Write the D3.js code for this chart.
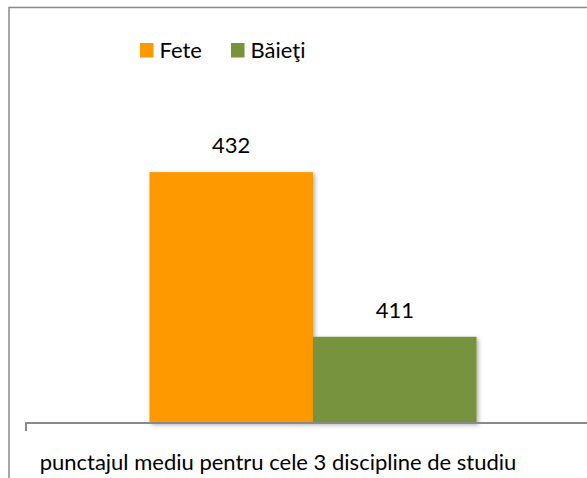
<!DOCTYPE html>
<html>
<head>
<meta charset="utf-8">
<script src="https://cdn.jsdelivr.net/npm/d3@7"></script>
<style>
  html, body { margin: 0; padding: 0; background: #fff; }
  svg { display: block; font-family: Lato, "Noto Sans", sans-serif; }
</style>
</head>
<body>
<svg id="chart" width="587" height="478"></svg>
<script>
// data
var categories = ["punctajul mediu pentru cele 3 discipline de studiu"]
var seriesNames = ["Fete", "Băieţi"]
var seriesValues = [432, 411]
var seriesColors = ["#ff9900", "#77933c"]
var yDomain = [400, 450]

var width = 587, height = 478
var fontSize = 22

var svg = d3.select("#chart")

// drop shadow for the bars
var defs = svg.append("defs")
var filter = defs.append("filter").attr("id", "shadow")
    .attr("x", "-10%").attr("y", "-10%").attr("width", "130%").attr("height", "130%")
filter.append("feDropShadow")
    .attr("dx", 2).attr("dy", 2).attr("stdDeviation", 2)
    .attr("flood-color", "#000").attr("flood-opacity", 0.3)

// outer chart border (cropped on the right and bottom)
svg.append("rect")
    .attr("x", 9).attr("y", 7.5)
    .attr("width", 620).attr("height", 520)
    .attr("fill", "none")
    .attr("stroke", "#8a8a8a")
    .attr("stroke-width", 1.5)

var plotLeft = 26, plotRight = 600, plotTop = 31, plotBottom = 423

var x = d3.scaleBand()
    .domain(categories)
    .range([plotLeft, plotRight])
    .padding(0.274)

var xs = d3.scaleBand()
    .domain(seriesNames)
    .range([0, x.bandwidth()])

var y = d3.scaleLinear()
    .domain(yDomain)
    .range([plotBottom, plotTop])

var bars = seriesNames.map(function(name, i) {
    return { cat: categories[0], name: name, value: seriesValues[i], color: seriesColors[i] }
})

svg.selectAll("rect.bar")
    .data(bars)
    .join("rect")
    .attr("class", "bar")
    .attr("x", function(d) { return x(d.cat) + xs(d.name) })
    .attr("y", function(d) { return y(d.value) })
    .attr("width", xs.bandwidth())
    .attr("height", function(d) { return y(yDomain[0]) - y(d.value) })
    .attr("fill", function(d) { return d.color })
    .attr("filter", "url(#shadow)")

// value labels
svg.selectAll("text.val")
    .data(bars)
    .join("text")
    .attr("class", "val")
    .attr("x", function(d) { return x(d.cat) + xs(d.name) + xs.bandwidth() / 2 })
    .attr("y", function(d) { return y(d.value) - 19 })
    .attr("text-anchor", "middle")
    .attr("font-size", fontSize)
    .attr("fill", "#000")
    .text(function(d) { return d.value })

// category axis line + left tick
svg.append("path")
    .attr("d", "M" + plotLeft + "," + (plotBottom + 8) + "V" + plotBottom + "H" + 620)
    .attr("fill", "none")
    .attr("stroke", "#8a8a8a")
    .attr("stroke-width", 2)

svg.append("text")
    .attr("x", 278)
    .attr("y", 470)
    .attr("text-anchor", "middle")
    .attr("font-size", fontSize)
    .attr("fill", "#000")
    .text(categories[0])

// legend
var legend = svg.append("g").attr("transform", "translate(140,43)")
var legendX = [0, 91]
var items = legend.selectAll("g")
    .data(seriesNames)
    .join("g")
    .attr("transform", function(d, i) { return "translate(" + legendX[i] + ",0)" })
items.append("rect")
    .attr("width", 13.5).attr("height", 14.5)
    .attr("fill", function(d, i) { return seriesColors[i] })
items.append("text")
    .attr("x", 19.5)
    .attr("y", 14.7)
    .attr("font-size", fontSize)
    .attr("fill", "#000")
    .text(function(d) { return d })
</script>
</body>
</html>
